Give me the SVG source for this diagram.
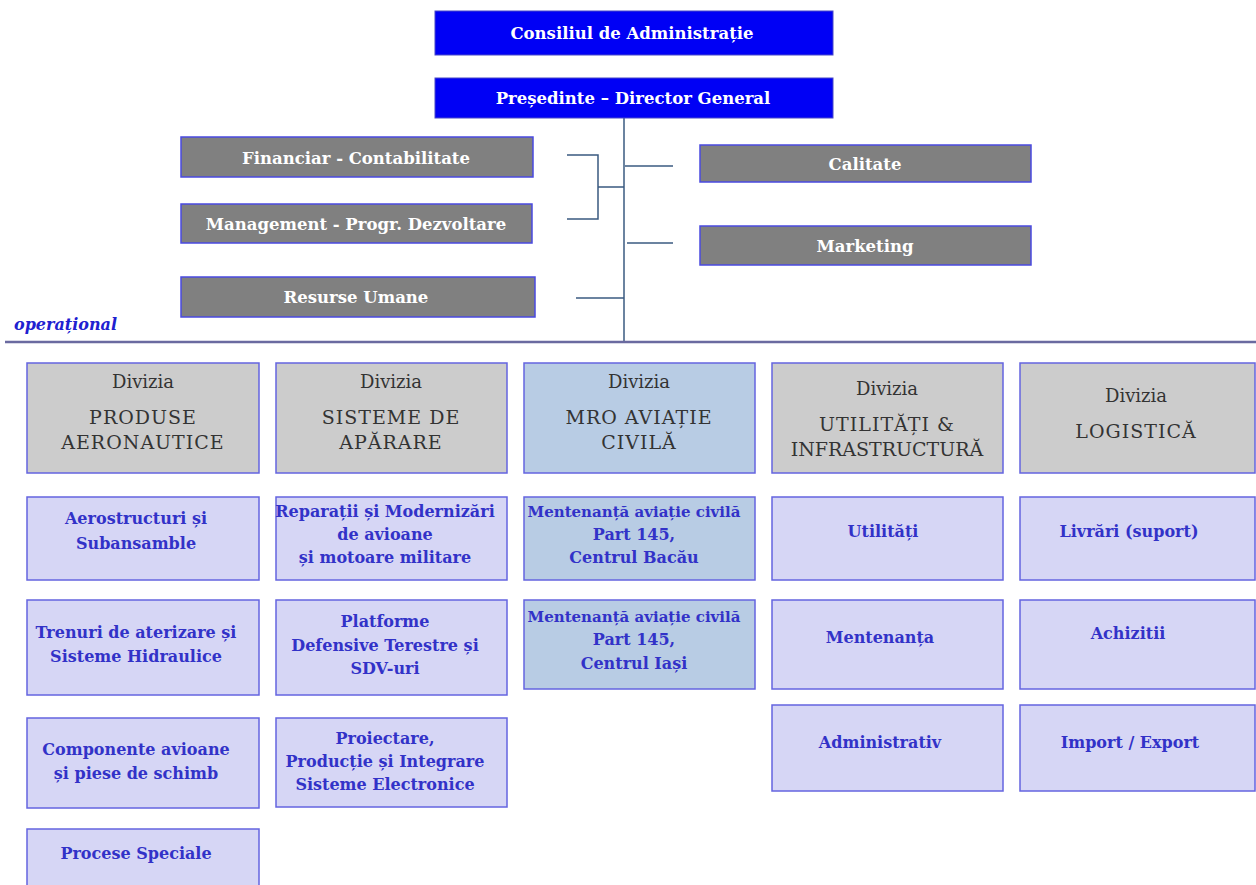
<svg xmlns="http://www.w3.org/2000/svg" width="1256" height="885" viewBox="0 0 1256 885">
<style>
text{font-family:"DejaVu Serif","Liberation Serif",serif;text-anchor:middle}
.top{fill:#0000f5;stroke:#4848c8;stroke-width:1}
.tt{fill:#fff;font-weight:bold;font-size:16.5px}
.gr{fill:#808080;stroke:#4a4ae0;stroke-width:1.5}
.gt{fill:#fff;font-weight:bold;font-size:16.5px}
.dv{fill:#cccccc;stroke:#6464e0;stroke-width:1.5}
.dvb{fill:#b8cce4;stroke:#6464e0;stroke-width:1.5}
.dt{fill:#333;font-size:18px}
.dn{fill:#333;font-size:19px;letter-spacing:1px}
.sb{fill:#d6d6f5;stroke:#6464e0;stroke-width:1.5}
.sbb{fill:#b8cce4;stroke:#6464e0;stroke-width:1.5}
.st{fill:#3232c8;font-weight:bold;font-size:16px}
.ln{stroke:#3a5a80;stroke-width:1.5;fill:none}
</style>
<rect width="1256" height="885" fill="#fff"/>
<g id="connectors">
<line class="ln" x1="624" y1="118" x2="624" y2="341" stroke="#8888b0"/>
<path class="ln" d="M567,155 H598 V219 H567 M598,187 H624"/>
<line class="ln" x1="625" y1="166" x2="673" y2="166"/>
<line class="ln" x1="627" y1="243" x2="673" y2="243"/>
<line class="ln" x1="576" y1="298" x2="624" y2="298"/>
</g>
<line x1="5" y1="342" x2="1256" y2="342" stroke="#6a6aa0" stroke-width="2.5"/>
<text x="14" y="330" style="text-anchor:start;font-style:italic;font-weight:bold;font-size:16px;fill:#2020d0">operațional</text>
<g id="consiliu"><rect class="top" x="435" y="11" width="398" height="44"/><text class="tt" x="632" y="39">Consiliul de Administrație</text></g>
<g id="presedinte"><rect class="top" x="435" y="78" width="398" height="40"/><text class="tt" x="633" y="104">Președinte – Director General</text></g>
<g id="financiar"><rect class="gr" x="181" y="137" width="352" height="40"/><text class="gt" x="356" y="164">Financiar - Contabilitate</text></g>
<g id="management"><rect class="gr" x="181" y="204" width="351" height="39"/><text class="gt" x="356" y="230">Management - Progr. Dezvoltare</text></g>
<g id="resurse"><rect class="gr" x="181" y="277" width="354" height="40"/><text class="gt" x="356" y="303">Resurse Umane</text></g>
<g id="calitate"><rect class="gr" x="700" y="145" width="331" height="37"/><text class="gt" x="865" y="170">Calitate</text></g>
<g id="marketing"><rect class="gr" x="700" y="226" width="331" height="39"/><text class="gt" x="865" y="252">Marketing</text></g>

<g id="div1"><rect class="dv" x="27" y="363" width="232" height="110"/><text class="dt" x="143" y="388">Divizia</text><text class="dn" x="143" y="424">PRODUSE</text><text class="dn" x="143" y="449">AERONAUTICE</text></g>
<g id="div2"><rect class="dv" x="276" y="363" width="231" height="110"/><text class="dt" x="391" y="388">Divizia</text><text class="dn" x="391" y="424">SISTEME DE</text><text class="dn" x="391" y="449">APĂRARE</text></g>
<g id="div3"><rect class="dvb" x="524" y="363" width="231" height="110"/><text class="dt" x="639" y="388">Divizia</text><text class="dn" x="639" y="424">MRO AVIAȚIE</text><text class="dn" x="639" y="449">CIVILĂ</text></g>
<g id="div4"><rect class="dv" x="772" y="363" width="231" height="110"/><text class="dt" x="887" y="395">Divizia</text><text class="dn" x="887" y="431">UTILITĂȚI &amp;</text><text class="dn" x="887" y="456" style="letter-spacing:0">INFRASTRUCTURĂ</text></g>
<g id="div5"><rect class="dv" x="1020" y="363" width="235" height="110"/><text class="dt" x="1136" y="402">Divizia</text><text class="dn" x="1136" y="438">LOGISTICĂ</text></g>

<g id="aerostructuri"><rect class="sb" x="27" y="497" width="232" height="83"/><text class="st" x="136" y="524">Aerostructuri  și</text><text class="st" x="136" y="549">Subansamble</text></g>
<g id="reparatii"><rect class="sb" x="276" y="497" width="231" height="83"/><text class="st" x="385" y="517">Reparații și Modernizări</text><text class="st" x="385" y="540">de avioane</text><text class="st" x="385" y="563">și motoare militare</text></g>
<g id="mentenanta-bacau"><rect class="sbb" x="524" y="497" width="231" height="83"/><text class="st" x="634" y="517" style="font-size:15px">Mentenanță aviație civilă</text><text class="st" x="634" y="540">Part 145,</text><text class="st" x="634" y="563">Centrul Bacău</text></g>
<g id="utilitati"><rect class="sb" x="772" y="497" width="231" height="83"/><text class="st" x="883" y="537">Utilități</text></g>
<g id="livrari"><rect class="sb" x="1020" y="497" width="235" height="83"/><text class="st" x="1129" y="537">Livrări (suport)</text></g>

<g id="trenuri"><rect class="sb" x="27" y="600" width="232" height="95"/><text class="st" x="136" y="638">Trenuri de aterizare și</text><text class="st" x="136" y="662">Sisteme Hidraulice</text></g>
<g id="platforme"><rect class="sb" x="276" y="600" width="231" height="95"/><text class="st" x="385" y="627">Platforme</text><text class="st" x="385" y="651">Defensive Terestre și</text><text class="st" x="385" y="674">SDV-uri</text></g>
<g id="mentenanta-iasi"><rect class="sbb" x="524" y="600" width="231" height="89"/><text class="st" x="634" y="622" style="font-size:15px">Mentenanță aviație civilă</text><text class="st" x="634" y="645">Part 145,</text><text class="st" x="634" y="669">Centrul Iași</text></g>
<g id="mentenanta"><rect class="sb" x="772" y="600" width="231" height="89"/><text class="st" x="880" y="643">Mentenanța</text></g>
<g id="achizitii"><rect class="sb" x="1020" y="600" width="235" height="89"/><text class="st" x="1128" y="639">Achizitii</text></g>

<g id="componente"><rect class="sb" x="27" y="718" width="232" height="90"/><text class="st" x="136" y="755">Componente avioane</text><text class="st" x="136" y="779">și piese de schimb</text></g>
<g id="proiectare"><rect class="sb" x="276" y="718" width="231" height="89"/><text class="st" x="385" y="744">Proiectare,</text><text class="st" x="385" y="767">Producție și Integrare</text><text class="st" x="385" y="790">Sisteme Electronice</text></g>
<g id="administrativ"><rect class="sb" x="772" y="705" width="231" height="86"/><text class="st" x="880" y="748">Administrativ</text></g>
<g id="import"><rect class="sb" x="1020" y="705" width="235" height="86"/><text class="st" x="1130" y="748">Import / Export</text></g>

<g id="procese"><rect class="sb" x="27" y="829" width="232" height="60"/><text class="st" x="136" y="859">Procese Speciale</text></g>
</svg>
